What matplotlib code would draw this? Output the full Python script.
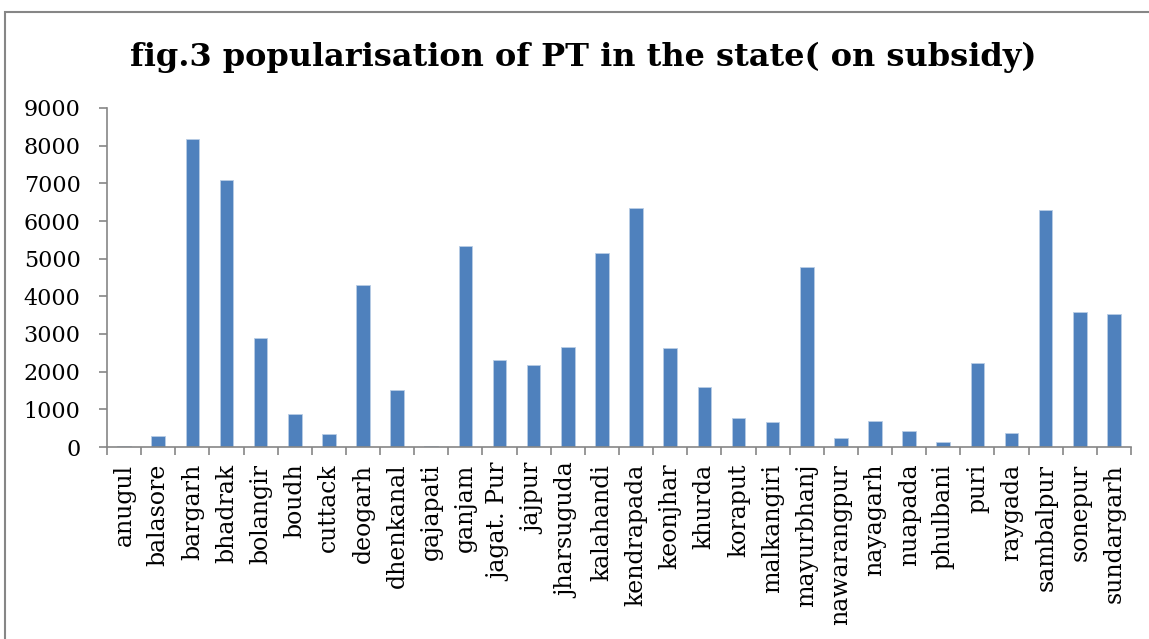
import numpy as np
import matplotlib
matplotlib.use("Agg")
import matplotlib.pyplot as plt
from matplotlib.patches import Rectangle

"""chart data read off the picture"""
districts = ["anugul", "balasore", "bargarh", "bhadrak", "bolangir", "boudh",
             "cuttack", "deogarh", "dhenkanal", "gajapati", "ganjam",
             "jagat. Pur", "jajpur", "jharsuguda", "kalahandi", "kendrapada",
             "keonjhar", "khurda", "koraput", "malkangiri", "mayurbhanj",
             "nawarangpur", "nayagarh", "nuapada", "phulbani", "puri",
             "raygada", "sambalpur", "sonepur", "sundargarh"]
subsidy = [20, 280, 8190, 7100, 2885, 885,
           354, 4310, 1504, 15, 5345,
           2300, 2168, 2646, 5142, 6337,
           2628, 1593, 761, 655, 4770,
           248, 699, 416, 133, 2239,
           372, 6301, 3584, 3531]
yticks = [0, 1000, 2000, 3000, 4000, 5000, 6000, 7000, 8000, 9000]

axis_grey = "#868686"
bar_blue = "#4f81bd"

fig = plt.figure(figsize=(11.49, 6.39), dpi=100)
ax = fig.add_axes([107/1149, 1-447/639, 1024/1149, 339/639])

x = np.arange(len(districts))
ax.bar(x, subsidy, width=0.4, color=bar_blue, edgecolor="#b9cde5", linewidth=0.6)

ax.set_xlim(-0.5, len(districts)-0.5)
ax.set_ylim(0, 9000)
ax.set_yticks(yticks)
ax.set_yticklabels([str(v) for v in yticks], family="DejaVu Serif", fontsize=16)

# excel style: ticks sit between categories, labels centred under bars
ax.set_xticks(np.arange(-0.5, len(districts), 1.0))
ax.set_xticklabels([])
ax.set_xticks(x, minor=True)
ax.set_xticklabels(districts, minor=True, rotation=90, family="DejaVu Serif",
                   fontsize=17, va="top")
ax.tick_params(axis="x", which="minor", length=0, pad=12)
ax.tick_params(axis="x", which="major", length=6, width=1.2, color=axis_grey)
ax.tick_params(axis="y", length=6, width=1.2, color=axis_grey, pad=13)

for s in ["top", "right"]:
    ax.spines[s].set_visible(False)
for s in ["left", "bottom"]:
    ax.spines[s].set_color(axis_grey)
    ax.spines[s].set_linewidth(1.2)

fig.text(583/1149, 1-57/639, "fig.3 popularisation of PT in the state( on subsidy)",
         family="DejaVu Serif", fontweight="heavy", fontsize=23,
         ha="center", va="center")

"""chart frame, cut off at the right and bottom like the picture"""
fig.patches.append(Rectangle((5/1149, -0.05), 1.2, 1-12/639+0.05,
                             transform=fig.transFigure, fill=False,
                             edgecolor=axis_grey, linewidth=1.5))

fig.savefig("out.png", dpi=100)
